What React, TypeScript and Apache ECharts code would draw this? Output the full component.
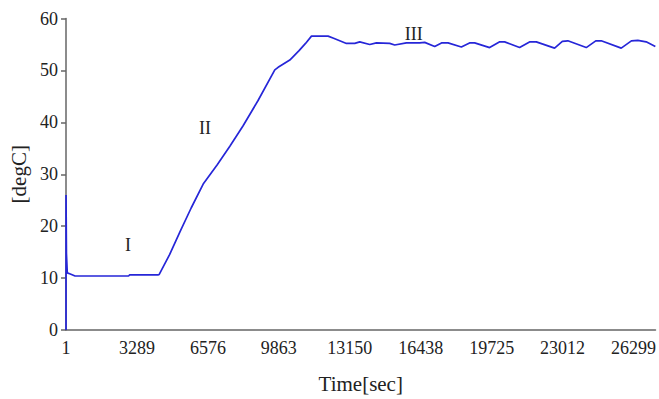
import React, { useEffect, useRef } from "react";
import * as echarts from "echarts";

// Time [sec] of each traced point
const timeSec = [
  1, 2, 20, 60, 200, 420, 1500, 2900, 2950, 4260, 4320, 4800, 5280, 5800, 6357,
  7000, 7593, 8200, 8900, 9676, 9830, 10371, 10800, 11100, 11375, 12145, 12400,
  12996, 13381, 13612, 14075, 14384, 15001, 15233, 15774, 16390, 16622, 17085,
  17400, 17702, 18321, 18700, 18937, 19631, 20100, 20326, 21020, 21500, 21793,
  22641, 23000, 23256, 24108, 24550, 24803, 25729, 26200, 26499, 26885, 27310,
];
// Temperature [degC]
const tempC = [
  0, 26, 14.8, 11.0, 10.8, 10.4, 10.4, 10.4, 10.6, 10.6, 10.7, 14.5, 18.9, 23.5,
  28.1, 31.8, 35.4, 39.3, 44.2, 50.1, 50.6, 52.0, 53.8, 55.2, 56.6, 56.6, 56.2,
  55.2, 55.2, 55.5, 55.0, 55.3, 55.2, 54.9, 55.3, 55.3, 55.4, 54.6, 55.3, 55.3,
  54.5, 55.3, 55.3, 54.4, 55.5, 55.5, 54.4, 55.5, 55.5, 54.3, 55.6, 55.7, 54.4,
  55.7, 55.7, 54.3, 55.7, 55.8, 55.5, 54.6,
];
const xTickLabels = ["1", "3289", "6576", "9863", "13150", "16438", "19725", "23012", "26299"];
const xTickStep = 3287.25;
const xMax = 27317;
const yTicks = { min: 0, max: 60, interval: 10 };
const phaseLabels = ["I", "II", "III"];
const phaseCoords = [
  [2870, 16.4],
  [6436, 39.0],
  [16112, 57.1],
];

const FONT = "'Liberation Serif', 'Times New Roman', serif";

export default function App() {
  const ref = useRef<HTMLDivElement>(null);
  useEffect(() => {
    if (!ref.current) return;
    const chart = echarts.init(ref.current, undefined, { renderer: "svg" });
    const data = timeSec.map((t, i) => [t, tempC[i]]);
    chart.setOption({
      animation: false,
      backgroundColor: "#ffffff",
      grid: { left: 66, right: 3, top: 18.5, bottom: 67 },
      xAxis: {
        type: "value",
        min: 0,
        max: xMax,
        interval: xTickStep,
        name: "Time[sec]",
        nameLocation: "middle",
        nameGap: 43,
        nameTextStyle: { fontFamily: FONT, fontSize: 21, color: "#222" },
        axisLine: { show: true, lineStyle: { color: "#666", width: 1.5 } },
        axisTick: { show: false },
        splitLine: { show: false },
        axisLabel: {
          fontFamily: FONT,
          fontSize: 18,
          color: "#222",
          margin: 9,
          showMaxLabel: false,
          formatter: (v: number) => {
            const k = v / xTickStep;
            const r = Math.round(k);
            if (Math.abs(k - r) > 0.01) return "";
            return xTickLabels[r] ?? "";
          },
        },
      },
      yAxis: {
        type: "value",
        min: yTicks.min,
        max: yTicks.max,
        interval: yTicks.interval,
        name: "[degC]",
        nameLocation: "middle",
        nameGap: 36,
        nameTextStyle: { fontFamily: FONT, fontSize: 21, color: "#222" },
        axisLine: { show: true, lineStyle: { color: "#666", width: 1.5 } },
        axisTick: { show: true, length: 5, lineStyle: { color: "#666", width: 1.5 } },
        splitLine: { show: false },
        axisLabel: { fontFamily: FONT, fontSize: 18, color: "#222", margin: 8 },
      },
      series: [
        {
          type: "line",
          data,
          symbol: "none",
          lineStyle: { color: "#2626d8", width: 1.7 },
          markPoint: {
            symbol: "circle",
            symbolSize: 1,
            itemStyle: { color: "rgba(0,0,0,0)" },
            silent: true,
            data: phaseCoords.map((c, i) => ({
              coord: c,
              value: phaseLabels[i],
            })),
            label: {
              show: true,
              position: "inside",
              formatter: (p: any) => p.value,
              fontFamily: FONT,
              fontSize: 18,
              color: "#222",
            },
          },
        },
      ],
    });
    return () => chart.dispose();
  }, []);
  return <div ref={ref} style={{ width: 659, height: 399, position: "absolute", left: 0, top: 0 }} />;
}
